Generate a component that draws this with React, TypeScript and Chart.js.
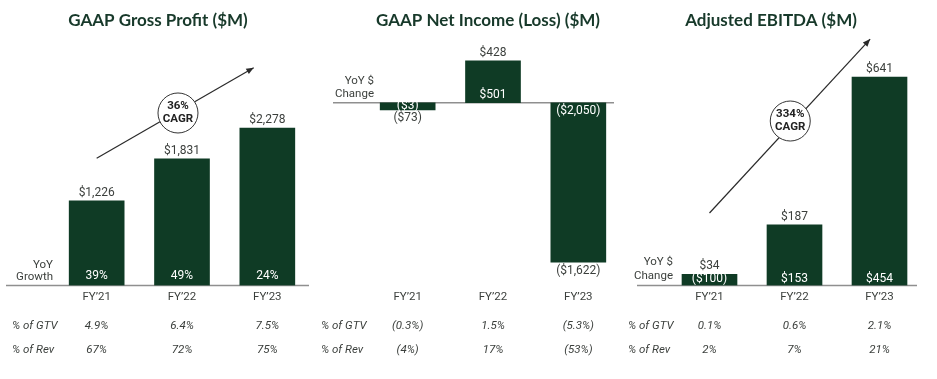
import React, { useEffect, useRef } from "react";
import { Chart, registerables } from "chart.js";

Chart.register(...registerables);

const categories = ["FY’21", "FY’22", "FY’23"];

const grossProfit = [1226, 1831, 2278];
const grossProfitYoY = ["39%", "49%", "24%"];
const grossProfitGtv = ["4.9%", "6.4%", "7.5%"];
const grossProfitRev = ["67%", "72%", "75%"];
const grossProfitCagr = "36%";

const netIncome = [-73, 428, -1622];
const netIncomeYoY = [-3, 501, -2050];
const netIncomeGtv = ["(0.3%)", "1.5%", "(5.3%)"];
const netIncomeRev = ["(4%)", "17%", "(53%)"];

const ebitda = [34, 187, 641];
const ebitdaYoY = [-100, 153, 454];
const ebitdaGtv = ["0.1%", "0.6%", "2.1%"];
const ebitdaRev = ["2%", "7%", "21%"];
const ebitdaCagr = "334%";

const BAR = "#0f3b25";
const TITLE = "#17392a";
const TEXT = "#3b3f3c";
const FONT = "Roboto, 'Noto Sans', sans-serif";
const TITLE_FONT = "Lato, 'Noto Sans', sans-serif";

const money = (v: number) => {
  const s = "$" + Math.abs(v).toLocaleString("en-US");
  return v < 0 ? "(" + s + ")" : s;
};

type PanelCfg = {
  left: number;
  width: number;
  title: string;
  titleX: number;
  values: number[];
  inner: string[];
  innerOffset: number;
  sideLabel: string[];
  sideX: number;
  sideY: number[];
  rowX: number;
  gtv: string[];
  rev: string[];
  yMin: number;
  yMax: number;
  pad: { left: number; right: number; top: number; bottom: number };
  lineX: number[];
  cagr?: { text: string; start: number[]; end: number[]; circle: number[] };
};

const panels: PanelCfg[] = [
  {
    left: 0,
    width: 310,
    title: "GAAP Gross Profit ($M)",
    titleX: 158,
    values: grossProfit,
    inner: grossProfitYoY,
    innerOffset: 9.5,
    sideLabel: ["YoY", "Growth"],
    sideX: 53,
    sideY: [265, 277],
    rowX: 12,
    gtv: grossProfitGtv,
    rev: grossProfitRev,
    yMin: 0,
    yMax: 3500,
    pad: { left: 54, right: 0, top: 43.5, bottom: 93.5 },
    lineX: [6, 309],
    cagr: { text: grossProfitCagr, start: [0, 1840], end: [1.84, 3150], circle: [0.953, 2495] },
  },
  {
    left: 310,
    width: 317,
    title: "GAAP Net Income (Loss) ($M)",
    titleX: 178,
    values: netIncome,
    inner: netIncomeYoY.map(money),
    innerOffset: 8,
    sideLabel: ["YoY $", "Change"],
    sideX: 64,
    sideY: [81, 94],
    rowX: 11,
    gtv: netIncomeGtv,
    rev: netIncomeRev,
    yMin: -1860,
    yMax: 700,
    pad: { left: 55, right: 6, top: 34, bottom: 93.5 },
    lineX: [23, 304],
  },
  {
    left: 627,
    width: 310,
    title: "Adjusted EBITDA ($M)",
    titleX: 144,
    values: ebitda,
    inner: ebitdaYoY.map(money),
    innerOffset: 6.5,
    sideLabel: ["YoY $", "Change"],
    sideX: 46,
    sideY: [262, 276],
    rowX: 1,
    gtv: ebitdaGtv,
    rev: ebitdaRev,
    yMin: 0,
    yMax: 786,
    pad: { left: 40, right: 15, top: 30, bottom: 93.5 },
    lineX: [10, 290],
    cagr: { text: ebitdaCagr, start: [0, 223], end: [1.89, 758], circle: [0.95, 506] },
  },
];

function Panel({ cfg }: { cfg: PanelCfg }) {
  const ref = useRef<HTMLCanvasElement | null>(null);
  useEffect(() => {
    if (!ref.current) return;
    const deco = {
      id: "deco",
      beforeDatasetsDraw(chart: any) {
        const ctx = chart.ctx;
        const zy = chart.scales.y.getPixelForValue(0);
        ctx.save();
        ctx.strokeStyle = "#8f8f8f";
        ctx.lineWidth = 1.3;
        ctx.beginPath();
        ctx.moveTo(cfg.lineX[0], zy);
        ctx.lineTo(cfg.lineX[1], zy);
        ctx.stroke();
        ctx.restore();
      },
      afterDatasetsDraw(chart: any) {
        const ctx = chart.ctx;
        const xs = chart.scales.x;
        const ys = chart.scales.y;
        const zy = ys.getPixelForValue(0);
        const meta = chart.getDatasetMeta(0);
        ctx.save();
        ctx.textBaseline = "middle";
        // title
        ctx.fillStyle = TITLE;
        ctx.textAlign = "center";
        ctx.font = `bold 17px ${TITLE_FONT}`;
        ctx.fillText(cfg.title, cfg.titleX, 21);
        // bars labels
        meta.data.forEach((el: any, i: number) => {
          const v = cfg.values[i];
          ctx.font = `12px ${FONT}`;
          ctx.fillStyle = TEXT;
          ctx.textAlign = "center";
          const ly = v >= 0 ? el.y - 8 : el.y + 8.5;
          ctx.fillText(money(v), el.x, ly);
          ctx.fillStyle = "#ffffff";
          const iy = v >= 0 ? zy - cfg.innerOffset : Math.min(zy + 8, (zy + el.y) / 2);
          ctx.font = `12px ${FONT}`;
          ctx.fillText(cfg.inner[i], el.x, iy);
          // categories + rows
          ctx.fillStyle = TEXT;
          ctx.font = `11.5px ${FONT}`;
          ctx.fillText(categories[i], xs.getPixelForValue(i), 297);
          ctx.font = `italic 11.5px ${FONT}`;
          ctx.fillText(cfg.gtv[i], xs.getPixelForValue(i), 326);
          ctx.fillText(cfg.rev[i], xs.getPixelForValue(i), 350);
        });
        ctx.textAlign = "left";
        ctx.font = `italic 11.5px ${FONT}`;
        ctx.fillStyle = TEXT;
        ctx.fillText("% of GTV", cfg.rowX, 326);
        ctx.fillText("% of Rev", cfg.rowX, 350);
        ctx.textAlign = "right";
        ctx.font = `11.5px ${FONT}`;
        cfg.sideLabel.forEach((t, k) => ctx.fillText(t, cfg.sideX, cfg.sideY[k]));
        // CAGR arrow
        if (cfg.cagr) {
          const c = cfg.cagr;
          const sx = xs.getPixelForValue(c.start[0]);
          const sy = ys.getPixelForValue(c.start[1]);
          const ex = xs.getPixelForValue(c.end[0]);
          const ey = ys.getPixelForValue(c.end[1]);
          ctx.strokeStyle = "#2a2a2a";
          ctx.fillStyle = "#2a2a2a";
          ctx.lineWidth = 1.2;
          ctx.beginPath();
          ctx.moveTo(sx, sy);
          ctx.lineTo(ex, ey);
          ctx.stroke();
          const ang = Math.atan2(ey - sy, ex - sx);
          const L = 8;
          ctx.beginPath();
          ctx.moveTo(ex, ey);
          ctx.lineTo(ex - L * Math.cos(ang - 0.4), ey - L * Math.sin(ang - 0.4));
          ctx.lineTo(ex - L * Math.cos(ang + 0.4), ey - L * Math.sin(ang + 0.4));
          ctx.closePath();
          ctx.fill();
          const cx = xs.getPixelForValue(c.circle[0]);
          const cy = ys.getPixelForValue(c.circle[1]);
          ctx.beginPath();
          ctx.arc(cx, cy, 20, 0, Math.PI * 2);
          ctx.fillStyle = "#ffffff";
          ctx.fill();
          ctx.strokeStyle = "#333333";
          ctx.lineWidth = 1;
          ctx.stroke();
          ctx.fillStyle = "#222222";
          ctx.textAlign = "center";
          ctx.font = `bold 11.5px ${FONT}`;
          ctx.fillText(c.text, cx, cy - 6.5);
          ctx.fillText("CAGR", cx, cy + 6.5);
        }
        ctx.restore();
      },
    };
    const chart = new Chart(ref.current, {
      type: "bar",
      data: {
        labels: categories,
        datasets: [
          {
            data: cfg.values,
            backgroundColor: BAR,
            borderWidth: 0,
            barThickness: 55,
          },
        ],
      },
      options: {
        responsive: false,
        animation: false,
        devicePixelRatio: 1,
        layout: { padding: cfg.pad },
        plugins: { legend: { display: false }, tooltip: { enabled: false } },
        scales: {
          x: { display: false, offset: true, grid: { display: false } },
          y: { display: false, min: cfg.yMin, max: cfg.yMax, grid: { display: false } },
        },
      },
      plugins: [deco],
    });
    return () => chart.destroy();
  }, [cfg]);
  return (
    <canvas
      ref={ref}
      width={cfg.width}
      height={379}
      style={{ position: "absolute", left: cfg.left, top: 0, width: cfg.width, height: 379 }}
    />
  );
}

export default function App() {
  return (
    <div
      style={{
        position: "fixed",
        left: 0,
        top: 0,
        width: 937,
        height: 379,
        background: "#ffffff",
        overflow: "hidden",
      }}
    >
      {panels.map((p, i) => (
        <Panel key={i} cfg={p} />
      ))}
    </div>
  );
}
